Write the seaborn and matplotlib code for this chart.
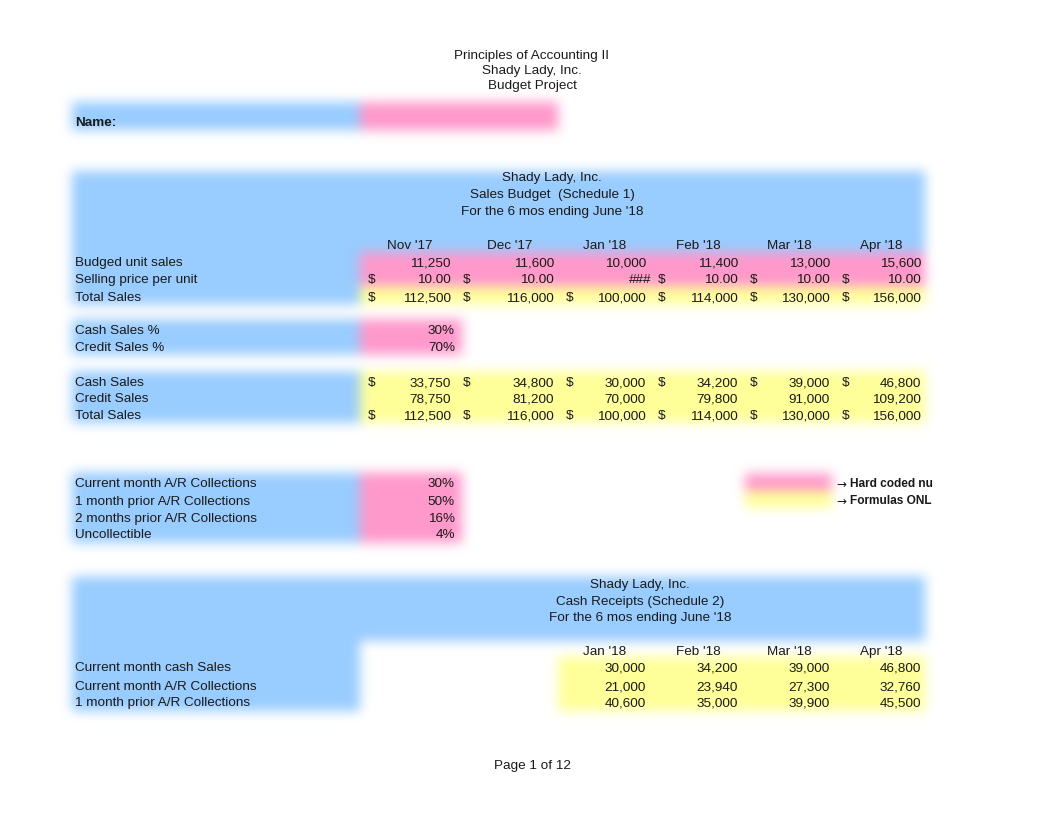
import numpy as np
import matplotlib
matplotlib.use("Agg")
import matplotlib.pyplot as plt
import seaborn as sns

# %% data
months = ["Nov '17", "Dec '17", "Jan '18", "Feb '18", "Mar '18", "Apr '18"]
unit_sales = [11250, 11600, 10000, 11400, 13000, 15600]
unit_price = [10.00, 10.00, 10.00, 10.00, 10.00, 10.00]
price_shown = ["10.00", "10.00", "###", "10.00", "10.00", "10.00"]  # Jan cell too narrow
total_sales = [112500, 116000, 100000, 114000, 130000, 156000]
cash_pct = 0.30
credit_pct = 0.70
cash_sales = [33750, 34800, 30000, 34200, 39000, 46800]
credit_sales = [78750, 81200, 70000, 79800, 91000, 109200]
ar_labels = ["Current month A/R Collections", "1 month prior A/R Collections",
             "2 months prior A/R Collections", "Uncollectible"]
ar_pcts = [0.30, 0.50, 0.16, 0.04]
rcpt_months = ["Jan '18", "Feb '18", "Mar '18", "Apr '18"]
rcpt_labels = ["Current month cash Sales", "Current month A/R Collections",
               "1 month prior A/R Collections"]
rcpt_cash = [30000, 34200, 39000, 46800]
rcpt_cur_ar = [21000, 23940, 27300, 32760]
rcpt_prior_ar = [40600, 35000, 39900, 45500]

# %% style
sns.set_theme(style="white")
plt.rcParams["font.family"] = ["Liberation Sans", "DejaVu Sans"]
FS = 9.7
W, H = 1062, 822
DY = 2  # text baseline nudge
BLUE = (153, 204, 255)
PINK = (255, 153, 204)
YELLOW = (255, 255, 153)

# column geometry (left, right) of the six month columns
cols = [(360, 455), (455, 558), (558, 650), (650, 742), (742, 834), (834, 925)]

# %% cell fills, softened like the scan
img = np.full((H, W, 3), 255.0)
def fill(x0, x1, y0, y1, c):
    img[y0:y1, x0:x1] = c

fill(72, 360, 103, 131, BLUE)
fill(360, 558, 103, 131, PINK)
fill(72, 925, 172, 253, BLUE)
fill(72, 360, 253, 305, BLUE)
fill(360, 925, 253, 287, PINK)
fill(360, 925, 287, 305, YELLOW)
fill(72, 360, 320, 355, BLUE)
fill(360, 462, 320, 355, PINK)
fill(72, 360, 372, 423, BLUE)
fill(360, 925, 372, 423, YELLOW)
fill(72, 360, 473, 543, BLUE)
fill(360, 462, 473, 543, PINK)
fill(745, 832, 474, 491, PINK)
fill(745, 832, 491, 508, YELLOW)
fill(72, 925, 577, 641, BLUE)
fill(72, 360, 641, 711, BLUE)
fill(558, 925, 657, 711, YELLOW)

def box_blur(a, r, axis):
    pad = [(0, 0)] * a.ndim
    pad[axis] = (r + 1, r)
    p = np.pad(a, pad, mode="edge")
    c = np.cumsum(p, axis=axis)
    n = a.shape[axis]
    hi = np.take(c, np.arange(2 * r + 1, 2 * r + 1 + n), axis=axis)
    lo = np.take(c, np.arange(0, n), axis=axis)
    return (hi - lo) / (2 * r + 1)

for _ in range(3):
    img = box_blur(img, 5, 0)
    img = box_blur(img, 5, 1)
img = np.clip(np.round(img), 0, 255).astype(np.uint8)

fig = plt.figure(figsize=(W / 100, H / 100), dpi=100)
ax = fig.add_axes([0, 0, 1, 1])
ax.imshow(img, extent=[0, W, H, 0], interpolation="bilinear")
ax.set_xlim(0, W)
ax.set_ylim(H, 0)
ax.axis("off")

def t(x, y, s, ha="left", size=FS, **kw):
    ax.text(x, y + DY, s, ha=ha, va="center", fontsize=size, color="#1a1a1a", **kw)

# %% page title
for y, s in zip([54, 69, 84], ["Principles of Accounting II", "Shady Lady, Inc.", "Budget Project"]):
    t(532, y, s, ha="center")
t(75, 121, "Name:", weight="bold")

# %% sales budget
for y, s in zip([176, 193, 210], ["Shady Lady, Inc.", "Sales Budget  (Schedule 1)",
                                  "For the 6 mos ending June '18"]):
    t(552, y, s, ha="center")

centers = [410, 510, 605, 698, 789, 881]
for cx, m in zip(centers, months):
    t(cx, 244, m, ha="center")

def money_row(y, vals, dollar, fmt="{:,.0f}", shown=None):
    for i, ((l, r), v) in enumerate(zip(cols, vals)):
        s = shown[i] if shown else fmt.format(v)
        rx = r - 4 if s != "###" else r + 1
        t(rx, y, s, ha="right")
        if dollar and s != "###":
            t(l + 8, y, "$")

t(75, 261, "Budged unit sales")
money_row(261, unit_sales, False)
t(75, 278, "Selling price per unit")
money_row(278, unit_price, True, shown=price_shown)
t(75, 296, "Total Sales")
money_row(296, total_sales, True)

t(75, 329, "Cash Sales %")
t(455, 329, f"{cash_pct:.0%}", ha="right")
t(75, 346, "Credit Sales %")
t(455, 346, f"{credit_pct:.0%}", ha="right")

t(75, 381, "Cash Sales")
money_row(381, cash_sales, True)
t(75, 397, "Credit Sales")
money_row(397, credit_sales, False)
t(75, 414, "Total Sales")
money_row(414, total_sales, True)

# %% collection pattern
for y, lab, p in zip([482, 500, 517, 533], ar_labels, ar_pcts):
    t(75, y, lab)
    t(455, y, f"{p:.0%}", ha="right")

for y, s in zip([482, 499], ["Hard coded nu", "Formulas ONL"]):
    t(836, y, "\u2192", size=8.6, family="DejaVu Sans")
    t(850, y, s, weight="bold", size=8.6)

# %% cash receipts
for y, s in zip([583, 600, 616], ["Shady Lady, Inc.", "Cash Receipts (Schedule 2)",
                                  "For the 6 mos ending June '18"]):
    t(640, y, s, ha="center")
for cx, m in zip(centers[2:], rcpt_months):
    t(cx, 650, m, ha="center")
for y, lab, vals in zip([666, 685, 701], rcpt_labels, [rcpt_cash, rcpt_cur_ar, rcpt_prior_ar]):
    t(75, y, lab)
    for (l, r), v in zip(cols[2:], vals):
        t(r - 4, y, f"{v:,.0f}", ha="right")

t(532, 764, "Page 1 of 12", ha="center")

fig.savefig("out.png", dpi=100)
